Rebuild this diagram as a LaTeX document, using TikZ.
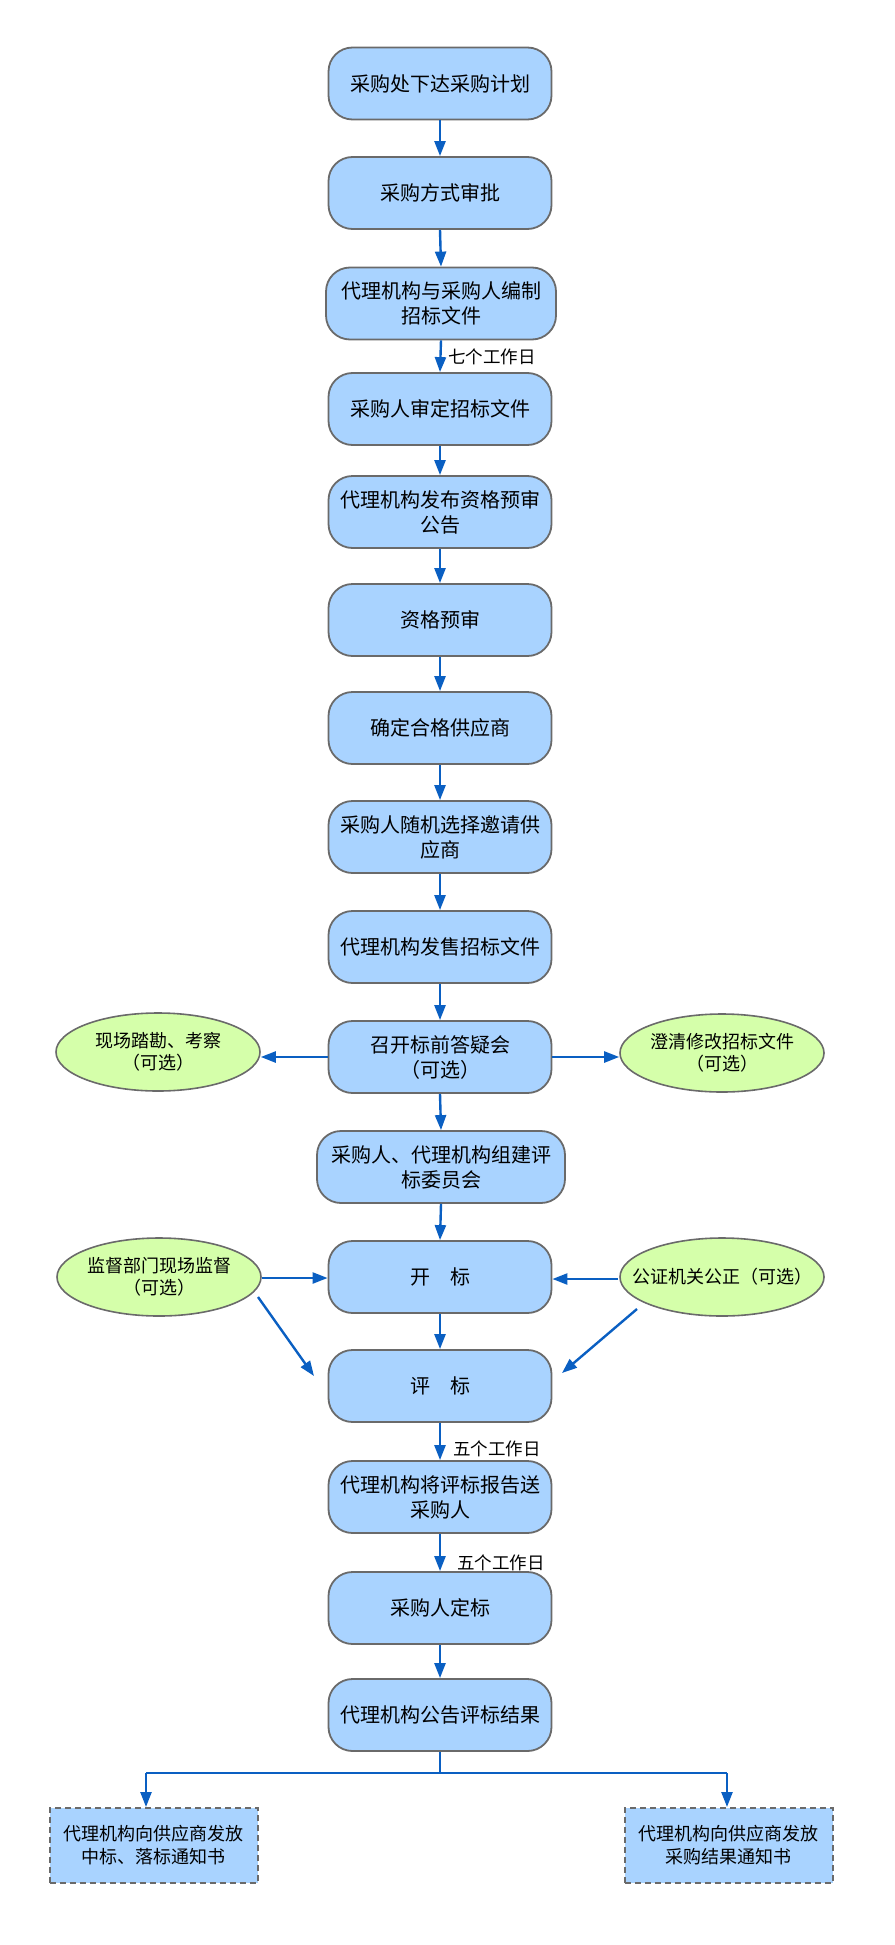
\documentclass[tikz,border=0pt]{standalone}
\usepackage{fontspec}
\setmainfont{Noto Sans CJK SC}
\usetikzlibrary{arrows.meta,shapes.geometric}
\definecolor{boxblue}{HTML}{A9D3FF}
\definecolor{optgreen}{HTML}{D5FFAA}
\definecolor{bordergray}{HTML}{6A6A6A}
\definecolor{arrowblue}{HTML}{0A5FC2}
\tikzset{
  proc/.style={draw=bordergray, line width=1.8pt, fill=boxblue, rounded corners=24pt,
    minimum width=223pt, minimum height=72pt, align=center, inner sep=0pt,
    font=\fontsize{20}{25}\selectfont},
  opt/.style={ellipse, draw=bordergray, line width=1.6pt, fill=optgreen,
    minimum width=204pt, minimum height=78pt, align=center, inner sep=0pt,
    font=\fontsize{18}{22}\selectfont},
  res/.style={draw=bordergray, dash pattern=on 6pt off 4pt, line width=2pt, fill=boxblue,
    minimum width=208pt, minimum height=75pt, align=center, inner sep=0pt,
    font=\fontsize{18}{23}\selectfont},
  flow/.style={draw=arrowblue, line width=2.4pt, -{Triangle[length=15pt,width=11pt]}},
  plain/.style={draw=arrowblue, line width=2.4pt},
  lab/.style={font=\fontsize{17.5}{20}\selectfont, anchor=west, inner sep=0pt}
}
\begin{document}
\begin{tikzpicture}[x=1pt,y=-1pt]
\useasboundingbox (0,0) rectangle (894,1945);
\node[proc] (b1) at (440,83.5) {采购处下达采购计划};
\node[proc] (b2) at (440,193) {采购方式审批};
\node[proc, minimum width=230pt] (b3) at (441,303.5) {代理机构与采购人编制\\招标文件};
\node[proc] (b4) at (440,409) {采购人审定招标文件};
\node[proc] (b5) at (440,512) {代理机构发布资格预审\\公告};
\node[proc] (b6) at (440,620) {资格预审};
\node[proc] (b7) at (440,728) {确定合格供应商};
\node[proc] (b8) at (440,837) {采购人随机选择邀请供\\应商};
\node[proc] (b9) at (440,947) {代理机构发售招标文件};
\node[proc] (b10) at (440,1057) {召开标前答疑会\\（可选）};
\node[proc, minimum width=248pt] (b11) at (441,1167) {采购人、代理机构组建评\\标委员会};
\node[proc] (b12) at (440,1277) {开\hspace{1em}标};
\node[proc] (b13) at (440,1386) {评\hspace{1em}标};
\node[proc] (b14) at (440,1497) {代理机构将评标报告送\\采购人};
\node[proc] (b15) at (440,1608) {采购人定标};
\node[proc] (b16) at (440,1715) {代理机构公告评标结果};

\node[opt] (e1) at (158,1052) {现场踏勘、考察\\（可选）};
\node[opt] (e2) at (722,1053) {澄清修改招标文件\\（可选）};
\node[opt] (e3) at (159,1277) {监督部门现场监督\\（可选）};
\node[opt, inner xsep=-19pt] (e4) at (722,1277) {公证机关公正（可选）};

\node[res] (r1) at (153.5,1845.5) {代理机构向供应商发放\\中标、落标通知书};
\node[res] (r2) at (728.5,1845.5) {代理机构向供应商发放\\采购结果通知书};

\foreach \a/\b in {b1/b2,b2/b3,b3/b4,b4/b5,b5/b6,b6/b7,b7/b8,b8/b9,b9/b10,b10/b11,b11/b12,b12/b13,b13/b14,b14/b15,b15/b16}
  \draw[flow] (\a.south) -- (\b.north);

\node[lab] (l1) at (448,357) {七个工作日};
\node[lab] (l2) at (453,1449) {五个工作日};
\node[lab] (l3) at (457,1563) {五个工作日};

\draw[flow] (b10.west) -- (b10.west -| e1.east);
\draw[flow] (b10.east) -- (b10.east -| e2.west);
\coordinate (c1) at (262,1278);
\coordinate (c2) at (618,1279);
\draw[flow] (c1) -- (c1 -| b12.west);
\draw[flow] (c2) -- (c2 -| b12.east);
\coordinate (d1s) at (258,1297);
\coordinate (d1e) at (314,1376);
\coordinate (d2s) at (637,1309);
\coordinate (d2e) at (562,1373);
\draw[flow] (d1s) -- (d1e);
\draw[flow] (d2s) -- (d2e);

\coordinate (j) at (440,1773);
\coordinate (jl) at (146,1773);
\coordinate (jr) at (727,1773);
\draw[plain] (b16.south) -- (j);
\draw[plain] (jl) -- (jr);
\draw[flow] (jl) -- (jl |- r1.north);
\draw[flow] (jr) -- (jr |- r2.north);
\end{tikzpicture}
\end{document}
